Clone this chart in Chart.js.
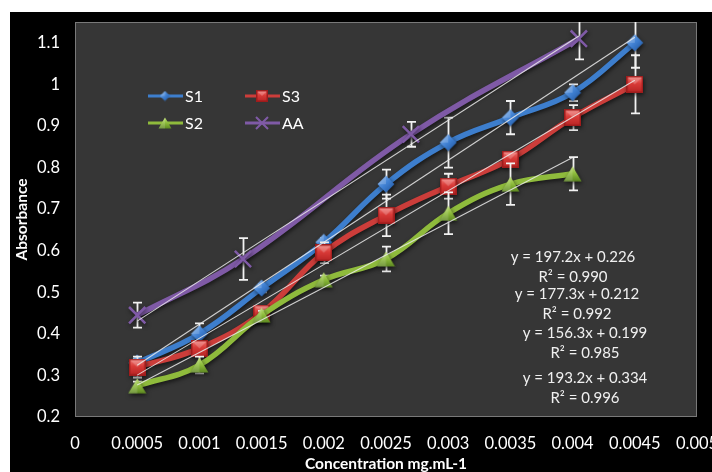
<!DOCTYPE html>
<html>
<head>
<meta charset="utf-8">
<script src="https://cdn.jsdelivr.net/npm/chart.js@4.4.1/dist/chart.umd.min.js"></script>
<style>
  html, body { margin: 0; padding: 0; background: #ffffff; }
  #wrap { width: 712px; height: 472px; }
</style>
</head>
<body>
<div id="wrap"><canvas id="chart" width="712" height="472"></canvas></div>
<script>
// Axis ticks
const xTickValues = [0, 0.0005, 0.001, 0.0015, 0.002, 0.0025, 0.003, 0.0035, 0.004, 0.0045, 0.005];
const xTickLabels = ['0', '0.0005', '0.001', '0.0015', '0.002', '0.0025', '0.003', '0.0035', '0.004', '0.0045', '0.005'];
const yTickValues = [0.2, 0.3, 0.4, 0.5, 0.6, 0.7, 0.8, 0.9, 1.0, 1.1];
const yTickLabels = ['0.2', '0.3', '0.4', '0.5', '0.6', '0.7', '0.8', '0.9', '1', '1.1'];

// Series: concentration (mg/mL), absorbance, error (±)
const s1Conc = [0.0005, 0.001, 0.0015, 0.002, 0.0025, 0.003, 0.0035, 0.004, 0.0045];
const s1Abs  = [0.33, 0.40, 0.51, 0.62, 0.76, 0.86, 0.92, 0.98, 1.10];
const s1Err  = [0.01, 0.025, 0.01, 0.01, 0.035, 0.06, 0.04, 0.02, 0.06];

const s3Conc = [0.0005, 0.001, 0.0015, 0.002, 0.0025, 0.003, 0.0035, 0.004, 0.0045];
const s3Abs  = [0.32, 0.365, 0.45, 0.595, 0.685, 0.755, 0.82, 0.92, 1.00];
const s3Err  = [0.025, 0.01, 0.01, 0.025, 0.05, 0.03, 0.01, 0.03, 0.07];

const s2Conc = [0.0005, 0.001, 0.0015, 0.002, 0.0025, 0.003, 0.0035, 0.004];
const s2Abs  = [0.275, 0.325, 0.445, 0.53, 0.58, 0.69, 0.76, 0.785];
const s2Err  = [0.01, 0.02, 0.01, 0.01, 0.03, 0.05, 0.05, 0.04];

const aaConc = [0.0005, 0.00135, 0.0027, 0.00405];
const aaAbs  = [0.445, 0.58, 0.88, 1.11];
const aaErr  = [0.03, 0.05, 0.03, 0.05];

// Linear fits, in the order S1, S3, S2, AA
const fitNames      = ['S1', 'S3', 'S2', 'AA'];
const fitSlopes     = [197.2, 177.3, 156.3, 193.2];
const fitIntercepts = [0.226, 0.212, 0.199, 0.334];
const fitR2         = ['0.990', '0.992', '0.985', '0.996'];

const FONT = 'Lato, "Open Sans", "DejaVu Sans", sans-serif';
const COLORS = { S1: '#3d7ecd', S3: '#cc3d3a', S2: '#8fbb3c', AA: '#7f5aa6' };

// ---- shaded marker sprites ----
function sprite(w, h, paint) {
  const c = document.createElement('canvas');
  c.width = w; c.height = h;
  paint(c.getContext('2d'), w, h);
  return c;
}
function diamond(size) {
  return sprite(size, size, (g, w, h) => {
    const r = w / 2 - 0.5, cx = w / 2, cy = h / 2;
    const grad = g.createLinearGradient(0, 0, w, h);
    grad.addColorStop(0, '#8ab8f0'); grad.addColorStop(0.5, '#3f80d2'); grad.addColorStop(1, '#1d4f96');
    g.fillStyle = grad;
    g.beginPath(); g.moveTo(cx, cy - r); g.lineTo(cx + r, cy); g.lineTo(cx, cy + r); g.lineTo(cx - r, cy); g.closePath(); g.fill();
    g.fillStyle = 'rgba(255,255,255,0.18)';
    g.beginPath(); g.moveTo(cx, cy - r); g.lineTo(cx, cy); g.lineTo(cx - r, cy); g.closePath(); g.fill();
  });
}
function square(size) {
  return sprite(size, size, (g, w, h) => {
    g.fillStyle = '#9e1c1c'; g.fillRect(0, 0, w, h);
    const grad = g.createLinearGradient(0, 0, 0, h);
    grad.addColorStop(0, '#f27a76'); grad.addColorStop(0.45, '#d93b38'); grad.addColorStop(1, '#b52323');
    g.fillStyle = grad; g.fillRect(1.5, 1.5, w - 3, h - 3);
    g.fillStyle = 'rgba(255,255,255,0.22)';
    g.beginPath(); g.moveTo(1.5, 1.5); g.lineTo(w - 1.5, 1.5); g.lineTo(w / 2, h / 2); g.closePath(); g.fill();
  });
}
function triangle(w, h) {
  return sprite(w, h, (g, W, H) => {
    const grad = g.createLinearGradient(0, 0, 0, H);
    grad.addColorStop(0, '#c2e07a'); grad.addColorStop(0.5, '#8cbb3a'); grad.addColorStop(1, '#5a8420');
    g.fillStyle = grad;
    g.beginPath(); g.moveTo(W / 2, 0.5); g.lineTo(W - 0.5, H - 0.5); g.lineTo(0.5, H - 0.5); g.closePath(); g.fill();
    g.fillStyle = 'rgba(255,255,255,0.15)';
    g.beginPath(); g.moveTo(W / 2, 0.5); g.lineTo(W / 2, H - 0.5); g.lineTo(0.5, H - 0.5); g.closePath(); g.fill();
  });
}
const mkDiamond = diamond(18), mkSquare = square(17), mkTriangle = triangle(19, 16);
const lgDiamond = diamond(11), lgSquare = square(12), lgTriangle = triangle(14, 12);

function pts(xs, ys) { return xs.map((x, i) => ({ x: x, y: ys[i] })); }
function fitLine(k, xs) {
  const a = xs[0], b = xs[xs.length - 1];
  return [{ x: a, y: fitSlopes[k] * a + fitIntercepts[k] }, { x: b, y: fitSlopes[k] * b + fitIntercepts[k] }];
}

function series(label, xs, ys, errs, style, order) {
  const ds = {
    label: label, data: pts(xs, ys), errors: errs, isSeries: true,
    borderColor: COLORS[label], backgroundColor: COLORS[label],
    borderWidth: 5.5, tension: 0.4, order: order,
    pointStyle: style, pointRadius: 9, pointHoverRadius: 9
  };
  if (style === 'crossRot') {
    ds.pointRadius = 11.5; ds.pointBorderWidth = 2.5; ds.pointBorderColor = COLORS[label];
  }
  return ds;
}
function trend(k, xs) {
  return {
    label: 'fit ' + fitNames[k], data: fitLine(k, xs), order: 0,
    borderColor: 'rgba(235,235,235,0.85)', borderWidth: 1.1, pointRadius: 0, tension: 0
  };
}

// ---- plugins ----
const frame = {
  id: 'frame',
  beforeDraw(chart) {
    const { ctx, chartArea: a, width, height } = chart;
    ctx.save();
    ctx.fillStyle = '#ffffff'; ctx.fillRect(0, 0, width, height);
    ctx.fillStyle = '#000000'; ctx.fillRect(10, 12, width - 10, height - 12);
    ctx.fillStyle = '#363636'; ctx.fillRect(a.left, a.top, a.right - a.left, a.bottom - a.top);
    ctx.strokeStyle = 'rgba(150,150,150,0.7)'; ctx.lineWidth = 1;
    ctx.strokeRect(a.left + 0.5, a.top + 0.5, a.right - a.left - 1, a.bottom - a.top - 1);
    ctx.restore();
  }
};

const errorBars = {
  id: 'errorBars',
  beforeDatasetDraw(chart, args) {
    const ds = chart.data.datasets[args.index];
    if (!ds.isSeries) return;
    const { ctx, chartArea: a, scales: { x, y } } = chart;
    ctx.save();
    ctx.beginPath(); ctx.rect(a.left, a.top, a.right - a.left, a.bottom - a.top); ctx.clip();
    ctx.strokeStyle = '#f2f2f2'; ctx.lineWidth = 1.8;
    ds.data.forEach((p, i) => {
      const e = ds.errors[i];
      const px = Math.round(x.getPixelForValue(p.x)) + 0.5;
      const top = y.getPixelForValue(p.y + e), bot = y.getPixelForValue(p.y - e);
      ctx.beginPath();
      ctx.moveTo(px, top); ctx.lineTo(px, bot);
      ctx.moveTo(px - 4.5, top); ctx.lineTo(px + 4.5, top);
      ctx.moveTo(px - 4.5, bot); ctx.lineTo(px + 4.5, bot);
      ctx.stroke();
    });
    ctx.restore();
    // soft drop shadow under lines and markers
    ctx.save();
    ctx.shadowColor = 'rgba(0,0,0,0.6)'; ctx.shadowBlur = 4; ctx.shadowOffsetX = 1; ctx.shadowOffsetY = 2;
  },
  afterDatasetDraw(chart, args) {
    const ds = chart.data.datasets[args.index];
    if (ds.isSeries) chart.ctx.restore();
  }
};

const legendBox = {
  id: 'legendBox',
  afterDraw(chart) {
    const ctx = chart.ctx;
    const items = [
      { label: 'S1', x: 148, y: 96, img: lgDiamond },
      { label: 'S3', x: 245, y: 96, img: lgSquare },
      { label: 'S2', x: 148, y: 123, img: lgTriangle },
      { label: 'AA', x: 245, y: 123, img: null }
    ];
    ctx.save();
    items.forEach(it => {
      const cx = it.x + 17;
      ctx.strokeStyle = COLORS[it.label]; ctx.lineWidth = 3;
      ctx.beginPath(); ctx.moveTo(it.x, it.y); ctx.lineTo(it.x + 35, it.y); ctx.stroke();
      if (it.img) {
        ctx.drawImage(it.img, cx - it.img.width / 2, it.y - it.img.height / 2);
      } else {
        ctx.lineWidth = 2; ctx.beginPath();
        ctx.moveTo(cx - 6, it.y - 6); ctx.lineTo(cx + 6, it.y + 6);
        ctx.moveTo(cx + 6, it.y - 6); ctx.lineTo(cx - 6, it.y + 6); ctx.stroke();
      }
      ctx.fillStyle = '#ffffff'; ctx.font = '16px ' + FONT;
      ctx.textAlign = 'left'; ctx.textBaseline = 'middle';
      ctx.fillText(it.label, it.x + 37, it.y + 1);
    });
    ctx.restore();
  }
};

const equations = {
  id: 'equations',
  afterDraw(chart) {
    const ctx = chart.ctx;
    const centers = [573, 577, 585, 585];
    const rows = [257, 294, 333, 378];
    ctx.save();
    ctx.fillStyle = '#f0f0f0'; ctx.font = '15px ' + FONT;
    ctx.textAlign = 'center'; ctx.textBaseline = 'middle';
    fitNames.forEach((n, k) => {
      ctx.fillText('y = ' + fitSlopes[k] + 'x + ' + fitIntercepts[k], centers[k], rows[k]);
      ctx.fillText('R\u00B2 = ' + fitR2[k], centers[k], rows[k] + 20);
    });
    ctx.restore();
  }
};

new Chart(document.getElementById('chart'), {
  type: 'line',
  data: {
    datasets: [
      trend(0, s1Conc), trend(1, s3Conc), trend(2, s2Conc), trend(3, aaConc),
      series('AA', aaConc, aaAbs, aaErr, 'crossRot', 1),
      series('S2', s2Conc, s2Abs, s2Err, mkTriangle, 2),
      series('S3', s3Conc, s3Abs, s3Err, mkSquare, 3),
      series('S1', s1Conc, s1Abs, s1Err, mkDiamond, 4)
    ]
  },
  options: {
    responsive: false,
    animation: false,
    layout: { padding: { left: 13, top: 22, right: 15, bottom: 0 } },
    plugins: { legend: { display: false }, tooltip: { enabled: false } },
    scales: {
      x: {
        type: 'linear', min: 0, max: 0.005,
        grid: { display: false, drawTicks: false },
        border: { display: false },
        afterBuildTicks: s => { s.ticks = xTickValues.map(v => ({ value: v })); },
        afterFit: s => { s.height = 55; s.paddingLeft = 0; s.paddingRight = 0; },
        ticks: {
          color: '#ffffff', font: { family: FONT, size: 16.5 }, padding: 17,
          maxRotation: 0, autoSkip: false,
          callback: (v, i) => xTickLabels[i]
        },
        title: {
          display: true, text: 'Concentration mg.mL-1', color: '#ffffff',
          font: { family: FONT, size: 15.5, weight: 'bold', lineHeight: 1 }, padding: 0
        }
      },
      y: {
        type: 'linear', min: 0.2, max: 1.15,
        grid: { display: false, drawTicks: false },
        border: { display: false },
        afterBuildTicks: s => { s.ticks = yTickValues.map(v => ({ value: v })); },
        afterFit: s => { s.width = 62; s.paddingTop = 0; s.paddingBottom = 0; },
        ticks: {
          color: '#ffffff', font: { family: FONT, size: 16.5 }, padding: 15,
          callback: (v, i) => yTickLabels[i]
        },
        title: {
          display: true, text: 'Absorbance', color: '#ffffff',
          font: { family: FONT, size: 15.5, weight: 'bold' }, padding: 0
        }
      }
    }
  },
  plugins: [frame, errorBars, legendBox, equations]
});
</script>
</body>
</html>
